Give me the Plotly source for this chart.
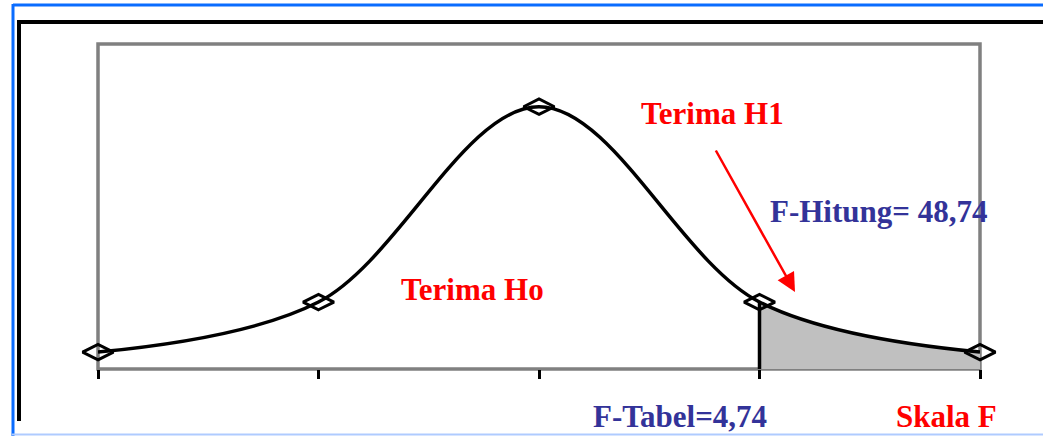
import plotly.graph_objects as go

# ---- data ----
curve_x = [0, 1, 2, 3, 4]
curve_y = [0.052, 0.206, 0.807, 0.206, 0.052]
tick_vals = [0, 1, 2, 3, 4]
critical_index = 3            # F-Tabel position on the scale
label_h1 = "Terima H1"
label_h0 = "Terima Ho"
label_hitung = "F-Hitung= 48,74"
label_tabel = "F-Tabel=4,74"
label_scale = "Skala F"

# ---- layout geometry (pixels) ----
W, H = 1043, 436
L, R, T, B = 98, 63, 44, 67
PW, PH = W - L - R, H - T - B


def px(x):
    return (x - L) / PW


def py(y):
    return (H - B - y) / PH


RED = "#FF0000"
BLUE = "#333399"
GRAY = "#808080"
FONT = "Liberation Serif"

fig = go.Figure()

# shaded rejection region (clipped to the right part by its own subplot)
fig.add_trace(go.Scatter(
    x=curve_x[critical_index - 1:], y=curve_y[critical_index - 1:],
    mode="lines", line=dict(shape="spline", smoothing=1, width=0, color="#C0C0C0"),
    fill="tozeroy", fillcolor="#C0C0C0", xaxis="x", yaxis="y",
    hoverinfo="skip", showlegend=False))

# main curve
fig.add_trace(go.Scatter(
    x=curve_x, y=curve_y, mode="lines",
    line=dict(shape="spline", smoothing=1, width=3.5, color="black"),
    xaxis="x2", yaxis="y2", showlegend=False))

# critical value vertical line
fig.add_trace(go.Scatter(
    x=[curve_x[critical_index], curve_x[critical_index]],
    y=[0, curve_y[critical_index]], mode="lines",
    line=dict(width=3.5, color="black"),
    xaxis="x2", yaxis="y2", showlegend=False))

# markers
fig.add_trace(go.Scatter(
    x=curve_x, y=curve_y, mode="markers",
    marker=dict(symbol="diamond-wide-open", size=22, color="black",
                line=dict(width=3, color="black")),
    cliponaxis=False, xaxis="x2", yaxis="y2", showlegend=False))

fig.update_layout(
    width=W, height=H,
    margin=dict(l=L, r=R, t=T, b=B, pad=0),
    paper_bgcolor="white", plot_bgcolor="rgba(0,0,0,0)",
    showlegend=False,
    xaxis=dict(domain=[critical_index / 4, 1],
               range=[curve_x[critical_index], curve_x[-1]],
               visible=False, anchor="y"),
    yaxis=dict(domain=[0, 1], range=[0, 1], visible=False, anchor="x"),
    xaxis2=dict(domain=[0, 1], range=[curve_x[0], curve_x[-1]], anchor="y2",
                showline=False, showgrid=False, zeroline=False,
                ticks="outside", tickvals=tick_vals, ticklen=9, tickwidth=3,
                tickcolor="black", showticklabels=False),
    yaxis2=dict(domain=[0, 1], range=[0, 1], anchor="x2",
                showline=False, showgrid=False, zeroline=False,
                ticks="", showticklabels=False),
)

# frames
shapes = [
    dict(type="rect", x0=0, x1=1, y0=0, y1=1,
         line=dict(color=GRAY, width=3.5), layer="below"),
    dict(type="line", x0=px(13), x1=px(W + 5), y0=py(5), y1=py(5),
         line=dict(color="#0A6CFF", width=3)),
    dict(type="line", x0=px(13), x1=px(13), y0=py(4), y1=py(H + 5),
         line=dict(color="#0A6CFF", width=3)),
    dict(type="line", x0=px(12), x1=px(W + 5), y0=py(434.5), y1=py(434.5),
         line=dict(color="#AFCBFF", width=2)),
    dict(type="line", x0=px(17), x1=px(W + 5), y0=py(22), y1=py(22),
         line=dict(color="black", width=4)),
    dict(type="line", x0=px(19), x1=px(19), y0=py(20), y1=py(421),
         line=dict(color="black", width=4)),
]
for s in shapes:
    s.update(xref="paper", yref="paper")
    s.setdefault("layer", "above")
fig.update_layout(shapes=shapes)


def label(text, x, y, color):
    fig.add_annotation(text=text, x=px(x), y=py(y), xref="paper", yref="paper",
                       showarrow=False, xanchor="center", yanchor="middle",
                       font=dict(family=FONT, size=31, color=color, weight="bold"))


label(label_h1, 712, 113, RED)
label(label_hitung, 878, 211, BLUE)
label(label_h0, 472, 289, RED)
label(label_tabel, 680, 416, BLUE)
label(label_scale, 946, 416, RED)

# arrow
fig.add_annotation(text="", x=px(795), y=py(292), xref="paper", yref="paper",
                   ax=715 - 795, ay=149 - 292, showarrow=True,
                   arrowcolor=RED, arrowwidth=2.5, arrowhead=2, arrowsize=1.5)

fig.write_html("out.html",
               config={"displayModeBar": False},
               post_script="document.body.style.margin='0';"
                           "document.body.style.overflow='hidden';")
